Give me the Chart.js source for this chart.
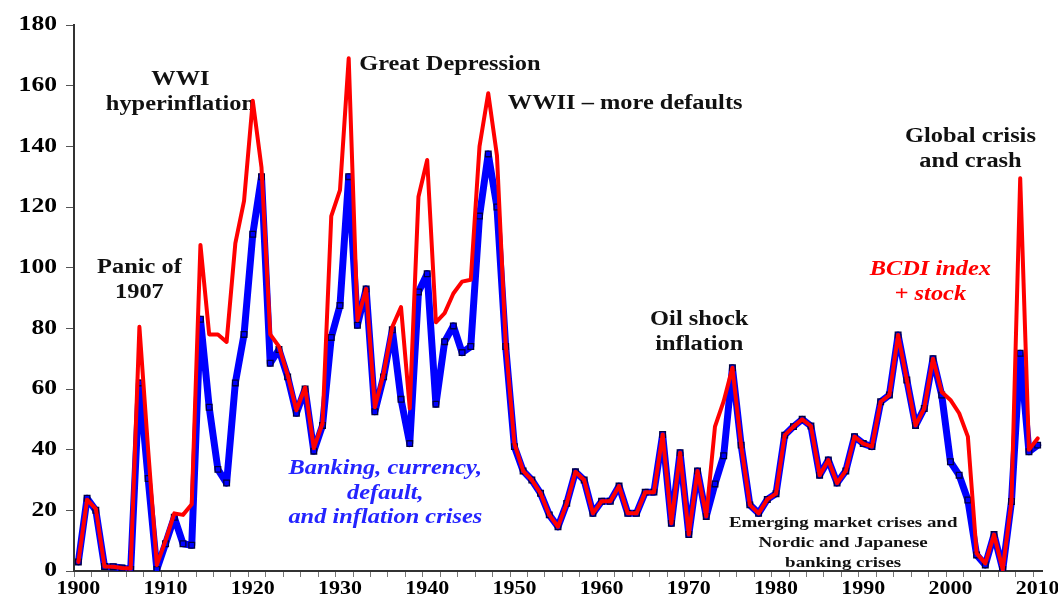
<!DOCTYPE html>
<html lang="en">
<head>
<meta charset="UTF-8">
<title>Banking, currency, default and inflation crises index, 1900-2010</title>
<script src="https://cdn.jsdelivr.net/npm/chart.js"></script>
<style>
    body {
        margin: 0;
        background: #ffffff;
    }
    .chart-box {
        width: 1058px;
        height: 600px;
    }
</style>
</head>
<body>

<div class="chart-box">
    <canvas id="crisisChart"></canvas>
</div>

<script>
// years 1900..2010 (one category per year)
const years = Array.from({ length: 111 }, (_, i) => 1900 + i);

// BCDI index: banking, currency, default and inflation crises
const bcdi = [
    3, 24, 20, 1.5, 1.4, 1, 0.5, 62, 30.5, 0.5,
    9, 17.7, 9, 8.5, 83, 54, 33.5, 29, 62, 78,
    111, 130, 68.5, 73, 64, 52, 60, 39.5, 48, 77,
    87.5, 130, 81, 93, 52.5, 64, 79.5, 56.6, 42, 92,
    98, 55, 75.6, 80.8, 72, 74, 117, 137.5, 120, 74,
    41, 33, 30, 25.6, 18.5, 14.6, 22.3, 32.7, 30, 19,
    23, 23, 28, 19, 19, 26, 26, 45, 15.7, 39,
    12, 33, 18, 28.7, 38, 67, 41.5, 21.8, 19, 23.6,
    25.5, 44.8, 47.6, 50, 47.8, 31.6, 36.6, 29, 33, 44.3,
    42, 41, 55.8, 58, 77.8, 63, 48, 53.6, 70, 58,
    36, 31.6, 23.4, 5.3, 2, 12, 0.5, 22.9, 71.8, 39.3,
    41.5
];

// BCDI index + stock market crashes
const bcdiStock = [
    3, 23.5, 20.5, 1.5, 1.4, 1, 0.8, 80.5, 40, 2,
    10, 19, 18.5, 22, 107.5, 78, 78, 75.5, 108, 122,
    155, 133, 78, 74, 64.6, 53, 60.5, 40.5, 48.7, 117,
    125.6, 169, 82.7, 93, 54, 65, 80.5, 87, 53.6, 123.4,
    135.5, 82, 85, 91.5, 95.4, 96, 140, 157.5, 137, 75,
    42, 33, 30, 25.6, 18.5, 14.6, 22.3, 32.7, 30, 19,
    23, 23, 28, 19, 19, 26, 26, 45, 15.7, 39,
    12, 33, 18, 47.6, 56, 67, 41.5, 21.8, 19, 23.6,
    25.5, 44.8, 47.6, 50, 47.8, 31.6, 36.6, 29, 33, 44.3,
    42, 41, 55.8, 58, 77.8, 63, 48, 53.6, 70, 59,
    56.4, 52, 44.3, 5.8, 2.5, 12, 0.5, 23, 129.5, 40,
    43.7
];

const yTicks = [0, 20, 40, 60, 80, 100, 120, 140, 160, 180];
const xTickLabels = [1900, 1910, 1920, 1930, 1940, 1950, 1960, 1970, 1980, 1990, 2000, 2010];

// text notes placed at (year, value)
const notes = [
    { lines: ['Panic of', '1907'], year: 1907.0, value: 99.9 },
    { lines: ['WWI', 'hyperinflation'], year: 1911.7, value: 161.9 },
    { lines: ['Great Depression'], year: 1942.6, value: 166.8 },
    { lines: ['WWII \u2013 more defaults'], year: 1962.7, value: 154.0 },
    { lines: ['Global crisis', 'and crash'], year: 2002.3, value: 143.1 },
    { lines: ['Oil shock', 'inflation'], year: 1971.2, value: 82.8 },
    { lines: ['BCDI index', '+ stock'], year: 1997.7, value: 99.2, color: '#ff0000', italic: true },
    { lines: ['Banking, currency,', 'default,', 'and inflation crises'], year: 1935.2, value: 33.6, color: '#2424ff', italic: true },
    { lines: ['Emerging market crises and', 'Nordic and Japanese', 'banking crises'], year: 1987.7, value: 15.8, size: 15.5, gap: 20 }
];

const SERIF = '"Liberation Serif", "Times New Roman", serif';
const STRETCH = 1.22; // the source picture is widened, so text is drawn wider than tall

function wideText(ctx, text, x, y, align) {
    ctx.save();
    ctx.translate(x, y);
    ctx.scale(STRETCH, 1);
    ctx.textAlign = align;
    ctx.fillText(text, 0, 0);
    ctx.restore();
}

const notesPlugin = {
    id: 'notes',
    beforeDatasetsDraw(chart) {
        const ctx = chart.ctx;
        const xs = chart.scales.x;
        const ys = chart.scales.y;
        notes.forEach(n => {
            const size = n.size || 20;
            const gap = n.gap || 24.5;
            const px = xs.getPixelForValue(n.year - years[0]);
            const py = ys.getPixelForValue(n.value);
            ctx.save();
            ctx.font = (n.italic ? 'italic ' : '') + 'bold ' + size + 'px ' + SERIF;
            ctx.fillStyle = n.color || '#111111';
            ctx.textBaseline = 'middle';
            n.lines.forEach((t, i) => wideText(ctx, t, px, py + i * gap, 'center'));
            ctx.restore();
        });
    },
    afterDraw(chart) {
        // axis numbers, drawn widened like the notes
        const ctx = chart.ctx;
        const xs = chart.scales.x;
        const ys = chart.scales.y;
        const area = chart.chartArea;
        ctx.save();
        ctx.fillStyle = '#000000';
        ctx.textBaseline = 'middle';
        ctx.font = 'bold 21px ' + SERIF;
        yTicks.forEach(v => wideText(ctx, String(v), area.left - 17, ys.getPixelForValue(v), 'right'));
        ctx.font = 'bold 18px ' + SERIF;
        xTickLabels.forEach(yr => wideText(ctx, String(yr), xs.getPixelForValue(yr - years[0]), area.bottom + 18, 'center'));
        ctx.restore();
    }
};

new Chart(document.getElementById('crisisChart'), {
    type: 'line',
    data: {
        labels: years,
        datasets: [
            {
                label: 'BCDI index + stock',
                data: bcdiStock,
                borderColor: '#ff0000',
                borderWidth: 4,
                borderJoinStyle: 'round',
                borderCapStyle: 'round',
                pointRadius: 0,
                tension: 0,
                fill: false
            },
            {
                label: 'BCDI index',
                data: bcdi,
                borderColor: '#0000ff',
                borderWidth: 7,
                borderJoinStyle: 'round',
                borderCapStyle: 'round',
                pointStyle: 'rect',
                pointRadius: 4,
                pointBorderWidth: 1.3,
                pointBorderColor: '#000040',
                pointBackgroundColor: '#0000ff',
                tension: 0,
                fill: false
            }
        ]
    },
    options: {
        responsive: true,
        maintainAspectRatio: false,
        animation: false,
        layout: { padding: { top: 25, right: 16, left: 0, bottom: 0 } },
        plugins: {
            legend: { display: false },
            tooltip: { enabled: false }
        },
        scales: {
            x: {
                type: 'category',
                offset: true,
                grid: {
                    offset: true,
                    drawOnChartArea: false,
                    tickLength: 6,
                    tickColor: c => (c.index % 2 === 0 ? '#777777' : 'rgba(0,0,0,0)')
                },
                border: { color: '#333333', width: 2 },
                ticks: { display: false, autoSkip: false },
                afterFit: s => { s.height = 29; }
            },
            y: {
                min: 0,
                max: 180,
                afterBuildTicks: s => { s.ticks = yTicks.map(v => ({ value: v })); },
                grid: {
                    drawOnChartArea: false,
                    tickLength: 8,
                    tickColor: '#555555'
                },
                border: { color: '#333333', width: 2 },
                ticks: { display: false },
                afterFit: s => { s.width = 74; }
            }
        }
    },
    plugins: [notesPlugin]
});
</script>

</body>
</html>
